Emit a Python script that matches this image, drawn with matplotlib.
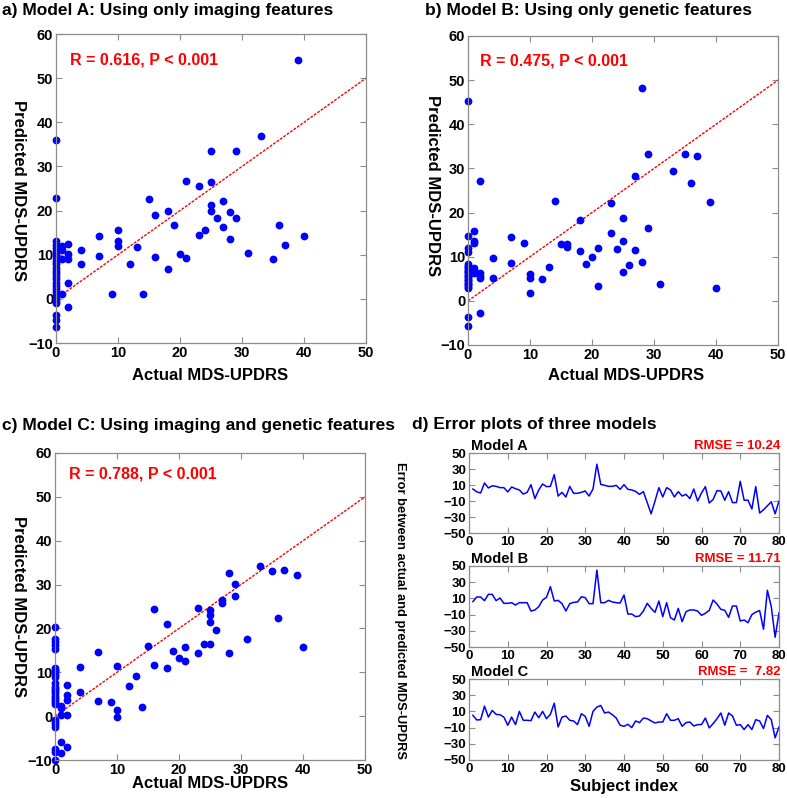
import numpy as np
import matplotlib
matplotlib.use("Agg")
import matplotlib.pyplot as plt

plt.rcParams['font.family'] = ['Liberation Sans', 'DejaVu Sans']
plt.rcParams['font.weight'] = 'bold'

# ---- scatter data (actual, predicted) ----
zeros_a = [36, 22.8, 13, 12.2, 11.5, 10.8, 10.2, 9.6, 9, 8.4, 7.8, 7.1, 6.4, 5.8, 5.1,
           4.4, 3.7, 3, 2.3, 1.6, 0.9, 0.2, -0.5, -1, -3.6, -4.7, -6.4]
actual_a = [1, 1, 1, 1, 2, 2, 2, 2, 2, 4, 4, 7, 7, 9, 10, 10, 10, 12, 13, 14, 15, 16, 16,
            18, 18, 19, 20, 21, 21, 23, 23, 24, 25, 25, 25, 25, 26, 27, 27, 28, 28, 29, 29,
            31, 33, 35, 36, 37, 39, 40]
pred_a = [12, 11.1, 9, 1.1, 12.5, 10.2, 9, 3.7, -1.8, 11.1, 8, 14.3, 9.6, 1, 15.5, 13, 12,
          7.9, 11.7, 1, 22.7, 19.1, 9.4, 19.8, 6.8, 16.8, 10.2, 26.8, 9.2, 25.6, 14.5, 15.6,
          33.4, 26.5, 21.2, 19.8, 18.3, 22.1, 16.3, 19.7, 13.5, 33.5, 18.4, 10.5, 37, 9,
          16.8, 12.2, 54.1, 14.2]

zeros_b = [45.2, 14.8, 12, 11, 8.3, 8, 7.7, 7.4, 7.1, 6.8, 6.5, 6.2, 5.9, 5.6, 5.3, 5, 4.7,
           4.4, 4.1, 3.8, 3.5, 3.2, 2.8, -3.6, -5.6]
actual_b = [1, 1, 1, 1, 1, 1, 2, 2, 2, 2, 2, 4, 4, 7, 7, 9, 10, 10, 10, 12, 13, 14, 15, 16,
            16, 18, 18, 19, 20, 21, 21, 23, 23, 24, 25, 25, 25, 26, 27, 27, 28, 28, 29, 29,
            31, 33, 35, 36, 37, 39, 40]
pred_b = [15.8, 13.5, 13, 7.4, 6.8, 6.2, 27.2, 6.2, 5.6, 5.1, -2.8, 9.6, 5.1, 14.4, 8.6,
          13.2, 6, 5.1, 1.7, 4.9, 7.7, 22.7, 12.9, 12.9, 12.3, 18.4, 11.4, 8.4, 10, 12, 3.4,
          22.1, 15.4, 11.7, 18.8, 13.5, 6.6, 8.2, 28.3, 11.5, 48.2, 8.7, 33.2, 16.6, 3.8,
          29.5, 33.2, 26.8, 32.9, 22.4, 2.8]

zeros_c = [20.3, 17.5, 16.8, 16.3, 15.2, 11, 10.6, 10.2, 9.8, 9.4, 9, 7.6, 6.7, 6.2, 5.7,
           5.2, 4.7, 4.2, 3.7, 3.2, 2.7, -0.9, -1.4, -1.9, -2.4, -7.4, -8.1, -9.9]
actual_c = [1, 1, 1, 1, 1, 2, 2, 2, 2, 2, 4, 4, 7, 7, 9, 10, 10, 10, 12, 13, 14, 15, 16, 16,
            18, 18, 19, 20, 21, 21, 23, 23, 24, 25, 25, 25, 25, 26, 27, 27, 28, 28, 29, 29,
            31, 33, 35, 36, 37, 39, 40]
pred_c = [2.3, 1.8, 0.2, -5.8, -8.3, 7.1, 4.8, 3.7, 0.2, -7.1, 11.1, 5.6, 14.7, 3.4, 3.3,
          11.4, 1.5, -0.3, 6.8, 9.1, 2.1, 16, 24.5, 11.6, 21, 11, 14.8, 13.3, 15.8, 12.5,
          24.7, 14.4, 16.4, 24.3, 23, 21.5, 16.4, 19.6, 26.4, 25.8, 32.7, 14.5, 30.1, 27.4,
          17.7, 34.2, 33.2, 22.3, 33.4, 32.1, 15.7]

# ---- error series (predicted - actual) for subjects 1..80 ----
err_a = [5, 1.5, 0, 12.5, 6.3, 9, 8.3, 6.7, 6.7, 1.3, 7.5, 5.4, 3.8, -1.3, 0.8, 10.4, -7,
         3.8, 11.3, 7.9, 8.3, 23, -3.8, 0.8, -5, 8.3, -0.4, -0.4, 0.8, 2.5, -3.8, 5, 36,
         10.8, 9.6, 8.3, 8.3, 9.6, 4.6, 10.4, 4.6, 3.8, 2, -1.7, 1.7, -12, -26, -10, 6.7,
         -5, 6.7, 3.8, -5, 1.7, -3.7, -1.7, -7, 5, -10, 0, 8, -12.5, -8, 3, 2.5, -9, 1.7,
         -12, -12, 14.6, -9, -9, -20, 8, -25, -21, -16, -11, -26, -10]
err_b = [6, 11.7, 11.7, 7.2, 15, 15, 7.2, 10.5, 3.9, 3.9, 4.7, 1.8, 4.7, 4.7, 4.7, -5.6,
         -4.3, -0.2, 8, 11.3, 24.5, 6.8, 7.6, 3.5, -5.6, 3.5, 5.1, 5.6, 12, 10.9, 3.5, 3.5,
         45, 4.7, 4.7, 7.6, 5.6, 4.7, 4.3, 14.2, -9.3, -9.3, -12.5, -11.7, -5.6, 3.9, -2.3,
         -7.2, 6.8, -12.5, 4.7, -13.8, -16.7, -2.3, -18.7, -6.4, -4.3, -4.3, -5.6, -10.9,
         -8.4, -4.7, 8, 3, -3.5, -4.7, -13.4, 0.6, 0.6, -17.9, -16.7, -20, -10, -7, -5,
         -28, 20, 0, -38, -8]
err_c = [5.1, -0.6, -0.2, 16.5, 3, 11.2, 6.3, 5.9, 3, -7.1, 3, -6.3, 10, -1, -1, -1.4,
         9.2, 2.2, 10, 1, 6.3, 20.2, -9.2, 3, 4.3, -1, -1.8, -6.3, 7.1, 3.9, -8.4, 10, 15.3,
         17.3, 8, 9.2, 5.9, 1.8, -7.1, -8.4, -5.9, -10, -1.8, -3.9, 1.8, 1, -1.8, -4.3,
         -3.1, -3.1, 7.1, -1, -1, 1, -8.4, -3.9, -3.1, -8, -6.3, -6.3, 1.8, -10.4, -5.1,
         1, 8, -7.1, 8, 4.3, -7.1, -6.3, -12.4, -6.3, -12.4, -0.2, -1.8, -11.2, 5.1, -0.2,
         -22.6, -9.2]

r_texts = ["R = 0.616, P < 0.001", "R = 0.475, P < 0.001", "R = 0.788, P < 0.001"]
rmse_texts = ["RMSE = 10.24", "RMSE = 11.71", "RMSE =  7.82"]
model_names = ["Model A", "Model B", "Model C"]

W, H = 787, 798
fig = plt.figure(figsize=(W / 100, H / 100), dpi=100)


def box(l, t, r, b):
    return [l / W, 1 - b / H, (r - l) / W, (b - t) / H]


def style(ax, fs):
    for s in ax.spines.values():
        s.set_color('#8c8c8c')
        s.set_linewidth(0.9)
    ax.tick_params(direction='in', top=True, right=True, length=4, width=0.8,
                   color='#8c8c8c', labelsize=fs, labelcolor='black', pad=2)
    for lab in ax.get_xticklabels() + ax.get_yticklabels():
        lab.set_fontweight('bold')


scat = [(zeros_a, actual_a, pred_a, box(56, 34, 366, 343), (2.2, 54.2)),
        (zeros_b, actual_b, pred_b, box(468, 36, 778, 345), (1.9, 54.4)),
        (zeros_c, actual_c, pred_c, box(55, 453, 365, 760), (2.2, 55.2))]

for i, (z, xa, ya, pos, tpos) in enumerate(scat):
    ax = fig.add_axes(pos)
    xs = [0] * len(z) + xa
    ys = z + ya
    ax.plot([0, 50], [0, 50], color='red', lw=1.0, linestyle=(0, (2, 1)))
    ax.plot(xs, ys, 'o', color='#0000ff', ms=4.6, mec='#0000ff', clip_on=False)
    ax.set_xlim(0, 50)
    ax.set_ylim(-10, 60)
    ax.set_xticks(np.arange(0, 51, 10))
    ax.set_yticks(np.arange(-10, 61, 10))
    ax.text(tpos[0], tpos[1], r_texts[i], color='#ff0000', fontsize=11.5,
            fontweight='bold', va='center', ha='left')
    style(ax, 10.5)

err_pos = [box(469, 453, 779, 533), box(469, 566, 779, 647), box(469, 679, 779, 760)]
subj = np.arange(1, 81)
for i, e in enumerate([err_a, err_b, err_c]):
    ax = fig.add_axes(err_pos[i])
    ax.plot(subj, e, color='#0000ff', lw=1.1)
    ax.set_xlim(0, 80)
    ax.set_ylim(-50, 50)
    ax.set_xticks(np.arange(0, 81, 10))
    ax.set_yticks([-50, -30, -10, 10, 30, 50])
    ax.text(0.005, 1.0, model_names[i], transform=ax.transAxes, fontsize=10.5,
            fontweight='bold', va='bottom', ha='left')
    ax.text(1.005, 1.01, rmse_texts[i], transform=ax.transAxes, fontsize=9.5,
            fontweight='bold', va='bottom', ha='right', color='#ff0000')
    style(ax, 9.5)

# titles
fig.text(2 / W, 1 - 10 / H, "a) Model A: Using only imaging features", fontsize=12.5,
         fontweight='bold', va='center', ha='left')
fig.text(425 / W, 1 - 10 / H, "b) Model B: Using only genetic features", fontsize=12.5,
         fontweight='bold', va='center', ha='left')
fig.text(2 / W, 1 - 425 / H, "c) Model C: Using imaging and genetic features", fontsize=12.5,
         fontweight='bold', va='center', ha='left')
fig.text(412 / W, 1 - 424 / H, "d) Error plots of three models", fontsize=12.5,
         fontweight='bold', va='center', ha='left')

# axis labels
for xc, yc in [(210, 376), (626, 376), (210, 783)]:
    fig.text(xc / W, 1 - yc / H, "Actual MDS-UPDRS", fontsize=12, fontweight='bold',
             ha='center', va='center')
fig.text(624 / W, 1 - 787 / H, "Subject index", fontsize=12, fontweight='bold',
         ha='center', va='center')
for xc, yc in [(18, 191), (433, 186), (18, 607)]:
    fig.text(xc / W, 1 - yc / H, "Predicted MDS-UPDRS", fontsize=12, fontweight='bold',
             ha='center', va='center', rotation=270)
fig.text(400 / W, 1 - 610 / H, "Error between actual and predicted MDS-UPDRS",
         fontsize=9.3, fontweight='bold', ha='center', va='center', rotation=270)

fig.savefig("out.png", dpi=100)
